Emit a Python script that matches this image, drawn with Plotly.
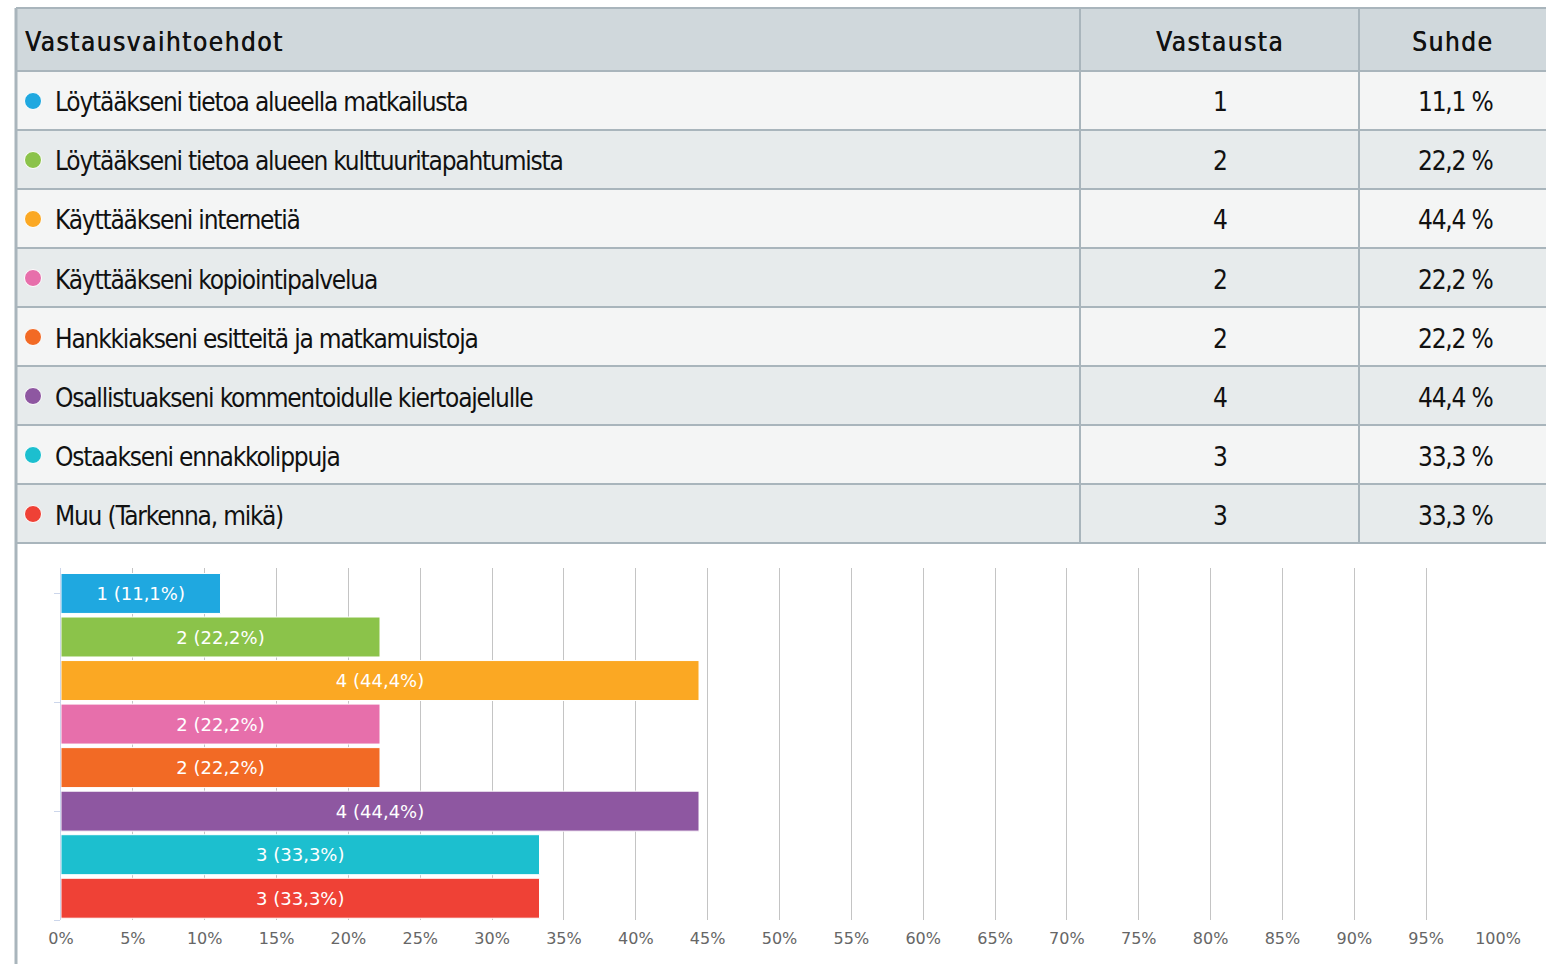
import plotly.graph_objects as go

# ---- data ----
categories = [
    "Löytääkseni tietoa alueella matkailusta",
    "Löytääkseni tietoa alueen kulttuuritapahtumista",
    "Käyttääkseni internetiä",
    "Käyttääkseni kopiointipalvelua",
    "Hankkiakseni esitteitä ja matkamuistoja",
    "Osallistuakseni kommentoidulle kiertoajelulle",
    "Ostaakseni ennakkolippuja",
    "Muu (Tarkenna, mikä)",
]
counts = [1, 2, 4, 2, 2, 4, 3, 3]
percents = [11.1, 22.2, 44.4, 22.2, 22.2, 44.4, 33.3, 33.3]
colors = ["#1fa8e0", "#8bc34a", "#fba823", "#e76fab",
          "#f26a25", "#8e57a1", "#1cbfcf", "#ef4136"]
headers = ["Vastausvaihtoehdot", "Vastausta", "Suhde"]
xticks = list(range(0, 101, 5))

# ---- layout helpers (pixel -> paper) ----
W, H = 1546, 964
def px(x):
    return x / W
def py(y):
    return 1 - y / H

TABLE_LEFT, TABLE_RIGHT = 16, 1546
COL1, COL2 = 1080, 1359
HEAD_TOP, HEAD_BOT = 8, 71
ROW_H = 59
BORDER = "#a9b5bc"
TFONT = "DejaVu Sans Condensed, DejaVu Sans, sans-serif"
TCOLOR = "#111111"

n = len(categories)
bar_text = [f"{c} ({p:.1f}%)".replace(".", ",") for c, p in zip(counts, percents)]
pct_text = [f"{p:.1f} %".replace(".", ",") for p in percents]

fig = go.Figure()
fig.add_trace(go.Bar(
    x=percents, y=list(range(n)), orientation="h",
    marker=dict(color=colors, line=dict(color="white", width=1)),
    width=0.918,
    text=bar_text, textposition="inside", insidetextanchor="middle",
    textangle=0, constraintext="none",
    textfont=dict(family="DejaVu Sans", size=18, color="white"),
    hoverinfo="skip",
))

shapes = []
annotations = []

def cell_text(x, y, text, anchor, spacing, size=26, shadow="none"):
    return dict(xref="paper", yref="paper", x=px(x), y=py(y),
                xanchor=anchor, yanchor="middle", showarrow=False,
                text=f"<span style='letter-spacing:{spacing}px'>{text}</span>",
                font=dict(family=TFONT, size=size, color=TCOLOR, shadow=shadow))

# header background
shapes.append(dict(type="rect", xref="paper", yref="paper",
                   x0=px(TABLE_LEFT), x1=px(TABLE_RIGHT), y0=py(HEAD_BOT), y1=py(HEAD_TOP),
                   fillcolor="#d0d8dc", line=dict(width=0), layer="below"))
# row backgrounds
for i in range(n):
    top = HEAD_BOT + ROW_H * i
    shapes.append(dict(type="rect", xref="paper", yref="paper",
                       x0=px(TABLE_LEFT), x1=px(TABLE_RIGHT), y0=py(top + ROW_H), y1=py(top),
                       fillcolor="#f4f5f5" if i % 2 == 0 else "#e7ebec",
                       line=dict(width=0), layer="below"))
table_bottom = HEAD_BOT + ROW_H * n
# horizontal borders
for yy in [HEAD_TOP, HEAD_BOT] + [HEAD_BOT + ROW_H * (i + 1) for i in range(n)]:
    shapes.append(dict(type="line", xref="paper", yref="paper",
                       x0=px(TABLE_LEFT), x1=px(TABLE_RIGHT), y0=py(yy), y1=py(yy),
                       line=dict(color=BORDER, width=2)))
# vertical borders
for xx in [COL1, COL2]:
    shapes.append(dict(type="line", xref="paper", yref="paper",
                       x0=px(xx), x1=px(xx), y0=py(HEAD_TOP), y1=py(table_bottom),
                       line=dict(color=BORDER, width=2)))
shapes.append(dict(type="line", xref="paper", yref="paper",
                   x0=px(TABLE_LEFT), x1=px(TABLE_LEFT), y0=py(HEAD_TOP), y1=0,
                   line=dict(color=BORDER, width=3)))

# header texts
hy = (HEAD_TOP + HEAD_BOT) / 2 + 2.5
hshadow = "0.6px 0px 0px #111111"
annotations.append(cell_text(23, hy, headers[0], "left", 1.5, shadow=hshadow))
annotations.append(cell_text((COL1 + COL2) / 2, hy, headers[1], "center", 1.5, shadow=hshadow))
annotations.append(cell_text(1452, hy, headers[2], "center", 1.5, shadow=hshadow))

# row texts and bullets
for i in range(n):
    cy = HEAD_BOT + ROW_H * i + ROW_H / 2
    shapes.append(dict(type="circle", xref="paper", yref="paper",
                       x0=px(24.5), x1=px(41.5), y0=py(cy + 9), y1=py(cy - 8),
                       fillcolor=colors[i], line=dict(color="white", width=1)))
    ty = cy + 2
    annotations.append(cell_text(53, ty, categories[i], "left", -1.2))
    annotations.append(cell_text((COL1 + COL2) / 2, ty, str(counts[i]), "center", -1.2))
    annotations.append(cell_text(1455, ty, pct_text[i], "center", -1.2))

fig.update_layout(
    width=W, height=H,
    margin=dict(l=0, r=0, t=0, b=0, autoexpand=False),
    paper_bgcolor="white", plot_bgcolor="white",
    showlegend=False,
    shapes=shapes, annotations=annotations,
    xaxis=dict(domain=[px(61), px(1498)], range=[0, 100],
               tickvals=xticks, ticktext=[f"{t}%" for t in xticks],
               showgrid=True, gridcolor="#c4c4c4", gridwidth=1,
               zeroline=False, showline=False, ticks="",
               ticklabelstandoff=7,
               tickfont=dict(family="DejaVu Sans", size=16, color="#666666"),
               automargin=False, fixedrange=True),
    yaxis=dict(domain=[py(920), py(568)], range=[n - 0.5, -0.585],
               tickvals=[0, 2.5, 5, 7.5], showticklabels=False,
               ticks="outside", ticklen=6, tickcolor="#ccd6eb",
               showgrid=False, zeroline=False,
               showline=True, linecolor="#ccd6eb", linewidth=1,
               automargin=False, fixedrange=True),
)

post = ("document.documentElement.style.margin='0';"
        "document.body.style.margin='0';"
        "document.body.style.padding='0';"
        "document.body.style.overflow='hidden';"
        "document.documentElement.style.overflow='hidden';")

fig.write_html("out.html", config={"responsive": False, "displayModeBar": False},
               post_script=post)
